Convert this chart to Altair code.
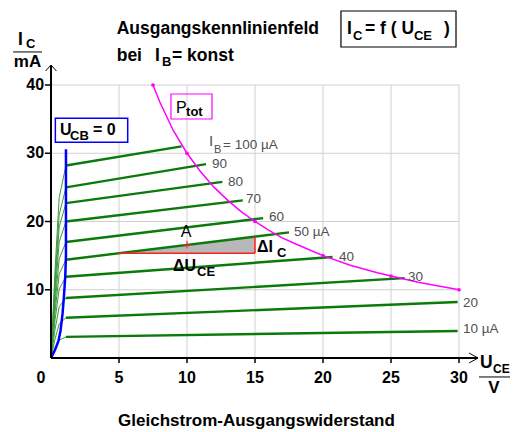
import altair as alt
import pandas as pd

FONT = "Liberation Sans"

# ---------------- data ----------------
ib_labels = [100, 90, 80, 70, 60, 50, 40, 30, 20, 10]
rise_u = [0.0, 0.3, 0.6, 1.1]
rise_i = [
    [0, 13.0, 23.5, 28.2],
    [0, 11.5, 21.0, 25.0],
    [0, 10.5, 19.2, 22.7],
    [0, 9.2, 17.0, 20.0],
    [0, 8.0, 14.5, 17.0],
    [0, 6.8, 12.3, 14.4],
    [0, 5.6, 10.1, 11.9],
    [0, 4.2, 7.5, 8.8],
    [0, 2.8, 5.0, 5.9],
    [0, 1.5, 2.6, 3.1],
]
end_u = [9.6, 11.4, 12.6, 14.1, 15.6, 17.5, 20.7, 26.0, 29.9, 29.9]
end_i = [31.0, 28.4, 25.8, 23.1, 20.5, 18.4, 14.8, 11.7, 8.2, 3.95]

ucb_u = [0, 0.3, 0.55, 0.7, 0.85, 0.95, 1.05, 1.1, 1.1]
ucb_i = [0, 1.2, 2.5, 4.0, 6.5, 9.0, 12.0, 15.0, 30.6]

ptot_u = [7.5, 8, 9, 10, 11, 12, 13, 14, 15, 16, 17, 18, 20, 22, 24, 25, 27, 30]
ptot_i = [40, 37.5, 33.3, 30, 27.3, 25, 23.1, 21.4, 20, 18.75, 17.6, 16.7, 15, 13.6, 12.5, 12, 11.1, 10]
ptot_mark_u = [7.5, 10, 15, 20, 25, 30]
ptot_mark_i = [40, 30, 20, 15, 12, 10]

x_ticks = [5, 10, 15, 20, 25, 30]
y_ticks = [10, 20, 30, 40]

dU_from, dU_to, op_i = 5, 15, 15.35
dI_top = 17.75
A_u, A_i = 10, 16.6

# ---------------- scales ----------------
xs = alt.Scale(domain=[0, 30], nice=False, zero=False)
ys = alt.Scale(domain=[0, 40], nice=False, zero=False)


def X(f="u"):
    return alt.X(f"{f}:Q", scale=xs, axis=None)


def Y(f="i"):
    return alt.Y(f"{f}:Q", scale=ys, axis=None)


layers = []

# grid
gx = pd.DataFrame({"u": x_ticks, "i": 0, "i2": 40})
layers.append(alt.Chart(gx).mark_rule(color="#d0d0d0", strokeWidth=1).encode(
    x=X(), y=Y(), y2="i2:Q"))
gy = pd.DataFrame({"i": y_ticks, "u": 0, "u2": 30})
layers.append(alt.Chart(gy).mark_rule(color="#d0d0d0", strokeWidth=1).encode(
    y=Y(), x=X(), x2="u2:Q"))

# grey triangle
tri = pd.DataFrame({"u": [dU_from, dU_to], "i": [op_i, dI_top], "i2": [op_i, op_i]})
layers.append(alt.Chart(tri).mark_area(color="#b8b8b8", opacity=1).encode(
    x=X(), y=Y(), y2="i2:Q"))

# curves
thin_rows, thick_rows = [], []
for k, ib in enumerate(ib_labels):
    for j, uu in enumerate(rise_u):
        thin_rows.append({"c": ib, "o": j, "u": uu, "i": rise_i[k][j]})
    thick_rows.append({"c": ib, "o": 0, "u": rise_u[-1], "i": rise_i[k][-1]})
    thick_rows.append({"c": ib, "o": 1, "u": end_u[k], "i": end_i[k]})
layers.append(alt.Chart(pd.DataFrame(thin_rows)).mark_line(color="#3c9a3c", strokeWidth=1).encode(
    x=X(), y=Y(), detail="c:N", order="o:Q"))
layers.append(alt.Chart(pd.DataFrame(thick_rows)).mark_line(color="#0a7a0a", strokeWidth=2.4).encode(
    x=X(), y=Y(), detail="c:N", order="o:Q"))

# UCB = 0 boundary
ucb = pd.DataFrame({"u": ucb_u, "i": ucb_i, "o": range(len(ucb_u))})
layers.append(alt.Chart(ucb).mark_line(color="#0000ff", strokeWidth=2.5).encode(
    x=X(), y=Y(), order="o:Q"))

# red delta lines
rh = pd.DataFrame({"u": [dU_from], "u2": [dU_to], "i": [op_i]})
layers.append(alt.Chart(rh).mark_rule(color="#ff2020", strokeWidth=1.5).encode(
    x=X(), x2="u2:Q", y=Y()))
rv = pd.DataFrame({"u": [dU_to], "i": [op_i], "i2": [dI_top]})
layers.append(alt.Chart(rv).mark_rule(color="#ff2020", strokeWidth=1.5).encode(
    x=X(), y=Y(), y2="i2:Q"))
pa = pd.DataFrame({"u": [A_u], "i": [A_i]})
layers.append(alt.Chart(pa).mark_point(shape="M-1,0L1,0M0,-1L0,1", size=60, filled=False,
                                       color="#ff2020", strokeWidth=1.5).encode(x=X(), y=Y()))

# Ptot hyperbola
pt = pd.DataFrame({"u": ptot_u, "i": ptot_i, "o": range(len(ptot_u))})
layers.append(alt.Chart(pt).mark_line(color="#ff00ff", strokeWidth=1.5).encode(
    x=X(), y=Y(), order="o:Q"))
ptm = pd.DataFrame({"u": ptot_mark_u, "i": ptot_mark_i})
layers.append(alt.Chart(ptm).mark_point(filled=True, size=14, color="#ff00ff", opacity=1).encode(
    x=X(), y=Y()))

# axes (drawn by hand)
ax = pd.DataFrame({"u": [0], "u2": [31.4], "i": [0]})
layers.append(alt.Chart(ax).mark_rule(color="black", strokeWidth=2).encode(
    x=X(), x2="u2:Q", y=Y()))
ay = pd.DataFrame({"u": [0], "i": [0], "i2": [42.9]})
layers.append(alt.Chart(ay).mark_rule(color="black", strokeWidth=2).encode(
    x=X(), y=Y(), y2="i2:Q"))
arr = pd.DataFrame({
    "c": ["x", "x", "x", "y", "y", "y"],
    "o": [0, 1, 2, 0, 1, 2],
    "u": [30.74, 31.4, 30.74, -0.4, 0, 0.4],
    "i": [0.73, 0, -0.73, 42.05, 42.93, 42.05],
})
layers.append(alt.Chart(arr).mark_line(color="black", strokeWidth=1).encode(
    x=X(), y=Y(), detail="c:N", order="o:Q"))
tx = pd.DataFrame({"u": x_ticks, "i": 0, "i2": -0.73})
layers.append(alt.Chart(tx).mark_rule(color="black", strokeWidth=1.5).encode(
    x=X(), y=Y(), y2="i2:Q"))
ty = pd.DataFrame({"i": y_ticks, "u": -0.45, "u2": 0})
layers.append(alt.Chart(ty).mark_rule(color="black", strokeWidth=1.5).encode(
    y=Y(), x=X(), x2="u2:Q"))

# boxes
boxes = pd.DataFrame({
    "u": [21.32, 8.82], "u2": [29.78, 11.84],
    "i": [50.84, 38.68], "i2": [45.57, 35.02],
    "col": ["black", "#ff00ff"],
})
layers.append(alt.Chart(boxes).mark_rect(fillOpacity=0, strokeWidth=1.2).encode(
    x=X(), x2="u2:Q", y=Y(), y2="i2:Q", stroke=alt.Stroke("col:N", scale=None)))
ubox = pd.DataFrame({"u": [0.32], "u2": [5.64], "i": [35.12], "i2": [31.6]})
layers.append(alt.Chart(ubox).mark_rect(fill="white", stroke="#0000ff", strokeWidth=1.5).encode(
    x=X(), x2="u2:Q", y=Y(), y2="i2:Q"))

# fraction lines of the axis labels
fr = pd.DataFrame({"u": [-2.79, 31.47], "u2": [-0.66, 33.75], "i": [44.84, -2.78]})
layers.append(alt.Chart(fr).mark_rule(color="black", strokeWidth=1).encode(
    x=X(), x2="u2:Q", y=Y()))


def texts(rows, size, weight="bold", color="black", align="left", baseline="alphabetic"):
    df = pd.DataFrame(rows, columns=["t", "u", "i"])
    return alt.Chart(df).mark_text(font=FONT, fontSize=size, fontWeight=weight, color=color,
                                   align=align, baseline=baseline).encode(
        x=X(), y=Y(), text="t:N")


# titles / header
layers.append(texts([
    ["Ausgangskennlinienfeld", 4.83, 47.47],
    ["bei", 4.83, 43.52],
    ["I", 7.65, 43.52],
    ["= konst", 8.9, 43.52],
    ["I", 21.76, 47.47],
    ["= f ( U", 23.09, 47.47],
    [")", 28.9, 47.47],
    ["I", -2.43, 45.86],
    ["U", 31.54, -1.47],
], 17.5))
layers.append(texts([
    ["B", 8.16, 42.78],
    ["C", 22.21, 46.6],
    ["CE", 26.69, 46.6],
    ["C", -1.84, 45.42],
], 13))
layers.append(texts([
    ["CE", 32.5, -2.2],
], 12))
layers.append(texts([
    ["mA", -1.73, 42.64],
    ["V", 32.57, -5.13],
    ["Gleichstrom-Ausgangswiderstand", 15.11, -10.0],
], 17, align="center"))

# tick labels
layers.append(texts([[str(v), -0.51, v] for v in y_ticks], 16, align="right", baseline="middle"))
layers.append(texts([[str(v), v, -3.66] for v in x_ticks] + [["0", -0.74, -3.66]], 16,
                    align="center"))

# in-plot labels
layers.append(texts([
    ["A", 9.93, 18.46],
], 16, weight="normal", align="center", baseline="middle"))
layers.append(texts([
    ["\u0394U", 8.97, 13.48],
    ["\u0394I", 15.15, 16.26],
    ["U", 0.66, 33.41],
    ["= 0", 3.09, 33.41],
], 16, baseline="middle"))
layers.append(texts([
    ["P", 9.19, 36.63],
], 16, weight="normal", baseline="middle"))
layers.append(texts([
    ["tot", 9.93, 36.0],
], 13, baseline="middle"))
layers.append(texts([
    ["CE", 10.74, 12.6],
    ["C", 16.62, 15.38],
    ["CB", 1.4, 32.53],
], 13, baseline="middle"))

# curve labels
curve_lab = [
    ["= 100 \u00b5A", 12.65, 31.2],
    ["90", 11.84, 28.42],
    ["80", 13.01, 25.79],
    ["70", 14.34, 23.3],
    ["60", 16.03, 20.66],
    ["50 \u00b5A", 17.87, 18.46],
    ["40", 21.18, 14.8],
    ["30", 26.25, 11.87],
    ["20", 30.29, 8.06],
    ["10 \u00b5A", 30.29, 4.25],
]
layers.append(texts(curve_lab, 13.5, weight="normal", color="#505050", baseline="middle"))
layers.append(texts([["I", 11.62, 31.8]], 15, weight="normal", color="#505050", baseline="middle"))
layers.append(texts([["B", 11.99, 30.48]], 11, weight="normal", color="#505050", baseline="middle"))

chart = alt.layer(*layers).properties(
    width=408, height=273,
    autosize=alt.AutoSizeParams(type="none"),
    padding={"left": 43, "top": 77, "right": 51, "bottom": 74},
).configure_view(stroke=None)

chart.save("out.html", embed_options={"renderer": "svg", "actions": False})
